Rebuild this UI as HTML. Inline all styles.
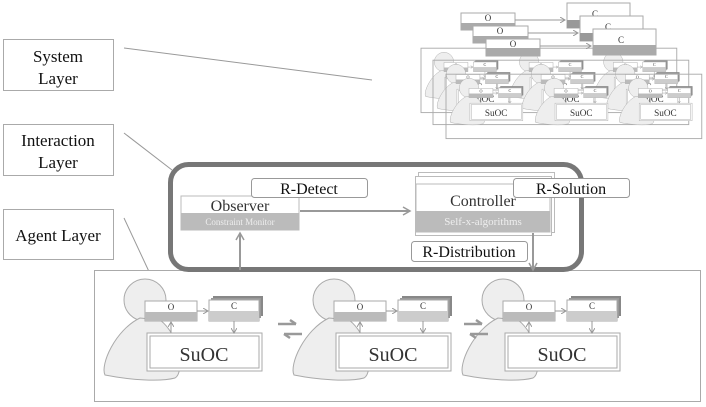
<!DOCTYPE html><html><head><style>body{margin:0;background:#fff}svg{display:block}text{font-family:"Liberation Serif",serif}</style></head><body>
<svg width="706" height="407" viewBox="0 0 706 407" xmlns="http://www.w3.org/2000/svg">
<defs>
<marker id="a" markerWidth="10" markerHeight="10" refX="8" refY="5" orient="auto" markerUnits="userSpaceOnUse"><path d="M1,1 L8,5 L1,9" fill="none" stroke="#999" stroke-width="1.5"/></marker>
<marker id="s" markerWidth="6" markerHeight="6" refX="5" refY="3" orient="auto" markerUnits="userSpaceOnUse"><path d="M0,0 L5,3 L0,6" fill="none" stroke="#999" stroke-width="1"/></marker>
<g id="agent">
<circle cx="145" cy="300" r="21" fill="#eee" stroke="#aaa"/>
<path d="M140,318 C115,330 100,365 105,375 C130,380 160,382 175,378 C185,372 180,335 160,320 Z" fill="#eee" stroke="#aaa"/>
<rect x="147" y="333" width="115" height="38" fill="#fff" stroke="#aaa"/>
<rect x="150" y="336" width="109" height="32" fill="#fff" stroke="#aaa"/>
<text x="204" y="361" font-size="20" text-anchor="middle" fill="#333">SuOC</text>
<rect x="145" y="301" width="52" height="20" fill="#fff" stroke="#aaa"/>
<rect x="145" y="312" width="52" height="9" fill="#bbb"/>
<text x="171" y="310" font-size="9" text-anchor="middle" fill="#333">O</text>
<rect x="213" y="296" width="50" height="20" fill="#888"/>
<rect x="211" y="298" width="50" height="20" fill="#999"/>
<rect x="209" y="300" width="50" height="21" fill="#fff" stroke="#aaa"/>
<rect x="209" y="311" width="50" height="10" fill="#ccc"/>
<text x="234" y="309" font-size="9" text-anchor="middle" fill="#333">C</text>
<line x1="197" y1="311" x2="208" y2="311" stroke="#999" marker-end="url(#s)"/>
<line x1="171" y1="333" x2="171" y2="322" stroke="#999" marker-end="url(#s)"/>
<line x1="234" y1="321" x2="234" y2="333" stroke="#999" marker-end="url(#s)"/>
</g>
<g id="dbl"><path d="M278,324 L296,324 M290,320 L296,324 M284,334 L302,334 M284,334 L290,338" stroke="#999" stroke-width="2.5" fill="none"/></g>
<g id="mini">
<rect x="150" y="270" width="556" height="140" fill="none" stroke="#aaa" stroke-width="2"/>
<g transform="translate(55,0)"><use href="#agent"/><use href="#agent" transform="translate(185,0)"/><use href="#agent" transform="translate(368,0)"/></g>
</g>
</defs>
<g stroke="#aaa" fill="#fff">
<rect x="3.5" y="39.5" width="110" height="51"/>
<rect x="3.5" y="124.5" width="110" height="51"/>
<rect x="3.5" y="209.5" width="110" height="50"/>
</g>
<g font-size="17" text-anchor="middle" fill="#111">
<text x="58" y="62">System</text><text x="58" y="84">Layer</text>
<text x="58" y="146">Interaction</text><text x="58" y="168">Layer</text>
<text x="58" y="241">Agent Layer</text>
</g>
<g stroke="#999" stroke-width="1">
<line x1="124" y1="48" x2="372" y2="80"/>
<line x1="124" y1="133" x2="172" y2="170"/>
<line x1="124" y1="218" x2="152" y2="278"/>
</g>
<rect x="94.5" y="270.5" width="606" height="131" fill="#fff" stroke="#aaa"/>
<use href="#agent"/>
<use href="#agent" transform="translate(189,0)"/>
<use href="#agent" transform="translate(358,0)"/>
<use href="#dbl"/><use href="#dbl" transform="translate(186,0)"/>
<rect x="170.5" y="164.5" width="411" height="105" rx="18" fill="#fff" stroke="#777" stroke-width="5"/>
<rect x="181" y="196" width="118" height="34" fill="#fff" stroke="#bbb"/>
<rect x="181" y="213" width="118" height="17" fill="#bbb"/>
<text x="240" y="211" font-size="16" text-anchor="middle" fill="#333">Observer</text>
<text x="240" y="225" font-size="9" text-anchor="middle" fill="#eee">Constraint Monitor</text>
<rect x="251.5" y="178.5" width="116" height="19" rx="3" fill="#fff" stroke="#999"/>
<text x="309" y="194" font-size="16" text-anchor="middle" fill="#111">R-Detect</text>
<line x1="300" y1="211" x2="410" y2="211" stroke="#999" stroke-width="2" marker-end="url(#a)"/>
<rect x="418.5" y="172.5" width="136" height="60" fill="#fff" stroke="#bbb"/>
<rect x="415.5" y="176.5" width="136" height="59" fill="#fff" stroke="#bbb"/>
<rect x="416" y="184" width="134" height="48" fill="#fff" stroke="#bbb"/>
<rect x="416" y="211" width="134" height="21" fill="#bbb"/>
<text x="483" y="206" font-size="16" text-anchor="middle" fill="#333">Controller</text>
<text x="483" y="225" font-size="11" text-anchor="middle" fill="#eee">Self-x-algorithms</text>
<rect x="513.5" y="178.5" width="116" height="19" rx="3" fill="#fff" stroke="#999"/>
<text x="571" y="194" font-size="16" text-anchor="middle" fill="#111">R-Solution</text>
<rect x="411.5" y="241.5" width="116" height="20" rx="3" fill="#fff" stroke="#999"/>
<text x="469" y="257" font-size="16" text-anchor="middle" fill="#111">R-Distribution</text>
<line x1="533" y1="233" x2="533" y2="270" stroke="#999" stroke-width="2" marker-end="url(#a)"/>
<line x1="240" y1="270" x2="240" y2="233" stroke="#999" stroke-width="2" marker-end="url(#a)"/>
<use href="#mini" transform="translate(352,-76) scale(0.46)"/>
<use href="#mini" transform="translate(364,-64) scale(0.46)"/>
<use href="#mini" transform="translate(377,-50) scale(0.46)"/>
<g font-size="9" text-anchor="middle" fill="#333">
<rect x="567" y="3" width="63" height="25" fill="#fff" stroke="#aaa"/><rect x="567" y="20" width="63" height="8" fill="#999"/><text x="595" y="17">C</text>
<rect x="580" y="16" width="63" height="25" fill="#fff" stroke="#aaa"/><rect x="580" y="33" width="63" height="8" fill="#999"/><text x="608" y="30">C</text>
<rect x="593" y="29" width="63" height="26" fill="#fff" stroke="#aaa"/><rect x="593" y="45" width="63" height="10" fill="#aaa"/><text x="621" y="43">C</text>
<rect x="461" y="13" width="54" height="17" fill="#fff" stroke="#aaa"/><rect x="461" y="23" width="54" height="7" fill="#aaa"/><text x="488" y="21">O</text>
<rect x="473" y="26" width="55" height="17" fill="#fff" stroke="#aaa"/><rect x="473" y="36" width="55" height="7" fill="#aaa"/><text x="500" y="34">O</text>
<rect x="486" y="39" width="54" height="17" fill="#fff" stroke="#aaa"/><rect x="486" y="48" width="54" height="8" fill="#aaa"/><text x="513" y="47">O</text>
</g>
<g stroke="#999" stroke-width="1">
<line x1="515" y1="20" x2="565" y2="20" marker-end="url(#s)"/>
<line x1="528" y1="33" x2="578" y2="33" marker-end="url(#s)"/>
<line x1="540" y1="46" x2="591" y2="46" marker-end="url(#s)"/>
</g>
</svg>
</body></html>
